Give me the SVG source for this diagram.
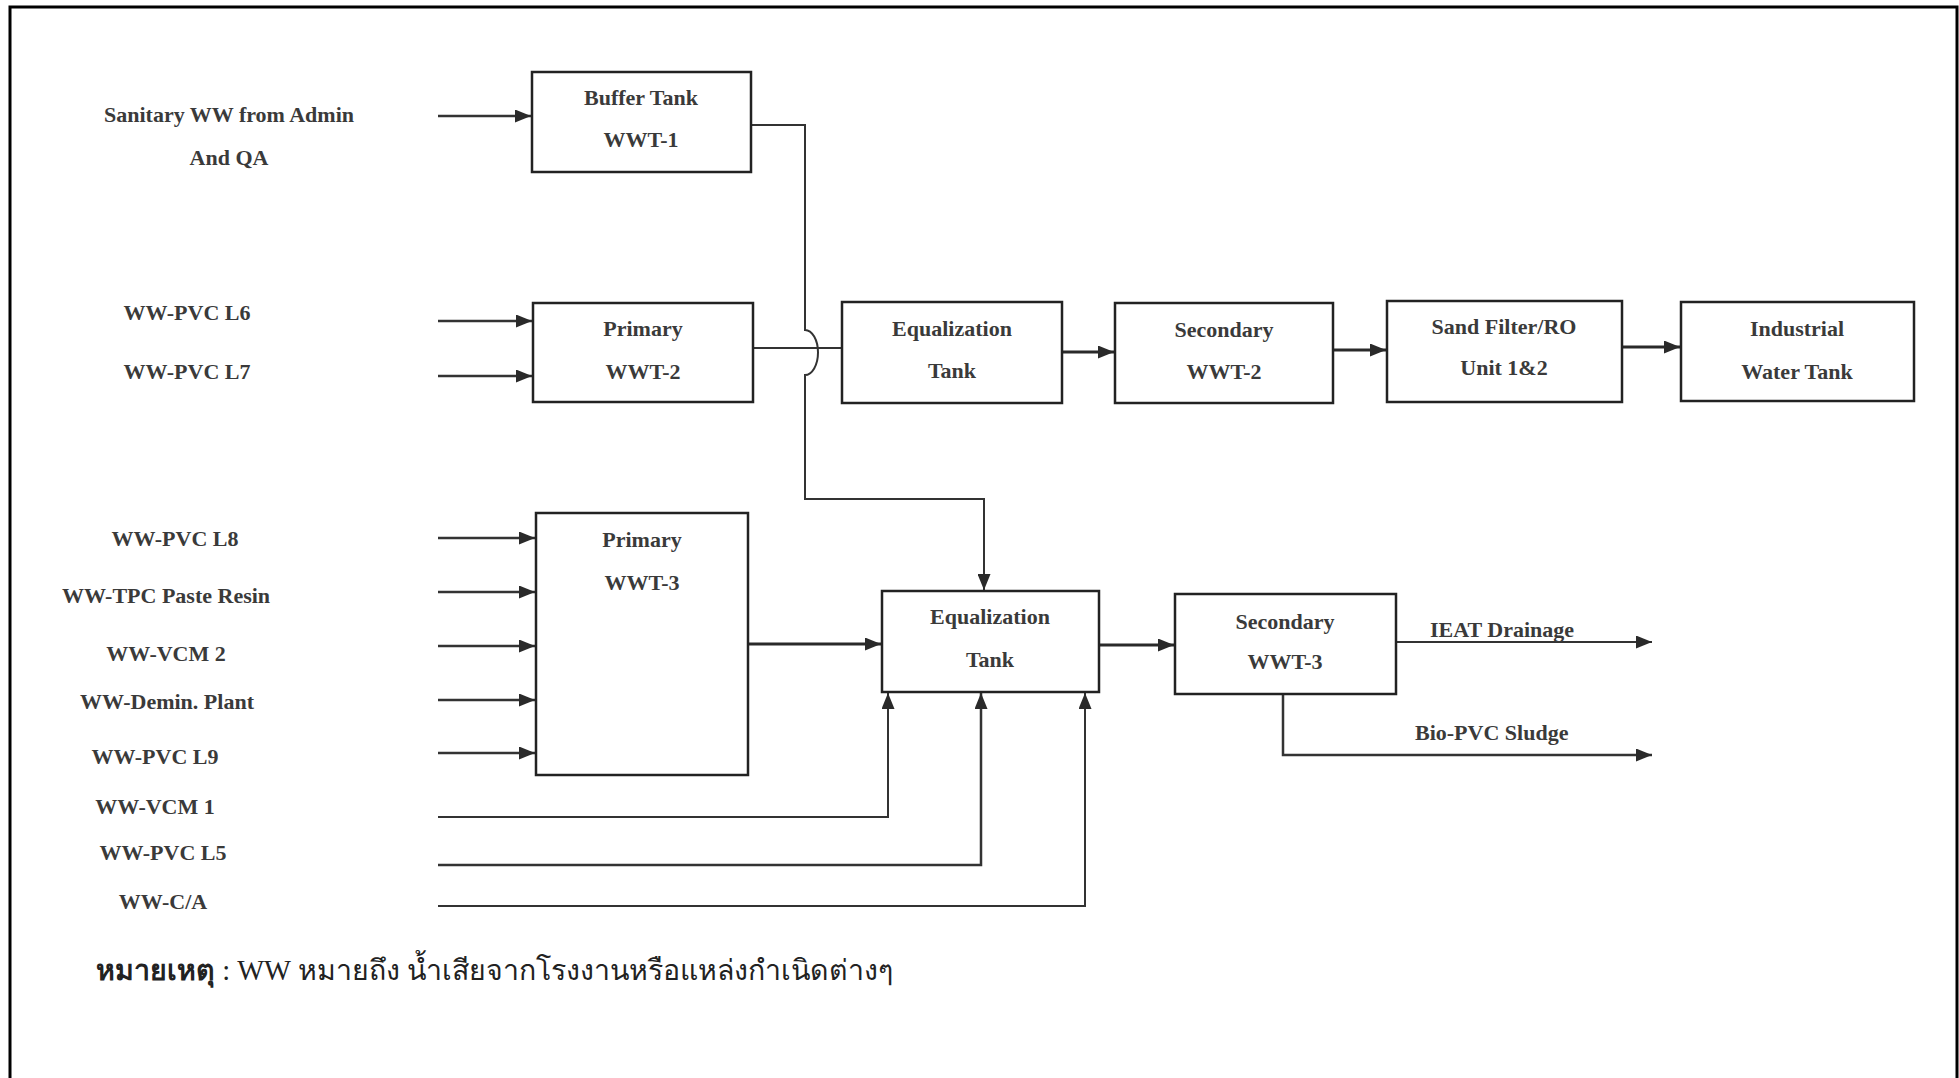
<svg xmlns="http://www.w3.org/2000/svg" width="1959" height="1078" viewBox="0 0 1959 1078">
<style>
.box{fill:#fff;stroke:#222;stroke-width:2.5}
.t{font-family:"Liberation Serif","DejaVu Serif",serif;font-weight:bold;font-size:22px;fill:#3a3a3a;text-anchor:middle}
.lab{font-family:"Liberation Serif","DejaVu Serif",serif;font-weight:bold;font-size:22px;fill:#3a3a3a}
.c{fill:none;stroke:#333;stroke-width:2}
.ci{fill:none;stroke:#333;stroke-width:2.5}
.ct{fill:none;stroke:#2a2a2a;stroke-width:3}
.foot{font-family:"Liberation Serif","Noto Sans","DejaVu Sans",serif;font-size:28.5px;fill:#222}
</style>
<defs>
<marker id="ah" markerUnits="userSpaceOnUse" markerWidth="17" markerHeight="13" refX="16" refY="6.5" orient="auto">
<path d="M0,0 L16,6.5 L0,13 z" fill="#2a2a2a"/>
</marker>
</defs>
<rect x="10" y="7" width="1947" height="1090" fill="none" stroke="#000" stroke-width="3"/>

<g id="connectors">
<path class="ci" d="M438,116 H531" marker-end="url(#ah)"/>
<path class="ci" d="M438,321 H532" marker-end="url(#ah)"/>
<path class="ci" d="M438,376 H532" marker-end="url(#ah)"/>
<path class="ci" d="M438,538 H535" marker-end="url(#ah)"/>
<path class="ci" d="M438,592 H535" marker-end="url(#ah)"/>
<path class="ci" d="M438,646 H535" marker-end="url(#ah)"/>
<path class="ci" d="M438,700 H535" marker-end="url(#ah)"/>
<path class="ci" d="M438,753 H535" marker-end="url(#ah)"/>
<path class="c" d="M751,125 H805 V330 A13,22.5 0 0 1 805,375 V499 H984 V590" marker-end="url(#ah)"/>
<path class="c" d="M753,348 H842"/>
<path class="ct" d="M1062,352 H1114" marker-end="url(#ah)"/>
<path class="ct" d="M1333,350 H1386" marker-end="url(#ah)"/>
<path class="ct" d="M1622,347 H1680" marker-end="url(#ah)"/>
<path class="ct" d="M748,644 H881" marker-end="url(#ah)"/>
<path class="ct" d="M1099,645 H1174" marker-end="url(#ah)"/>
<path class="c" d="M1396,642 H1652" marker-end="url(#ah)"/>
<path class="ci" d="M1283,694 V755 H1652" marker-end="url(#ah)"/>
<path class="c" d="M438,817 H888 V693" marker-end="url(#ah)"/>
<path class="ci" d="M438,865 H981 V693" marker-end="url(#ah)"/>
<path class="c" d="M438,906 H1085 V693" marker-end="url(#ah)" stroke="#555"/>
</g>

<g id="n-buffer">
<rect class="box" x="532" y="72" width="219" height="100"/>
<text class="t" x="641" y="105">Buffer Tank</text>
<text class="t" x="641" y="147">WWT-1</text>
</g>
<g id="n-primary2">
<rect class="box" x="533" y="303" width="220" height="99"/>
<text class="t" x="643" y="336">Primary</text>
<text class="t" x="643" y="379">WWT-2</text>
</g>
<g id="n-eq1">
<rect class="box" x="842" y="302" width="220" height="101"/>
<text class="t" x="952" y="336">Equalization</text>
<text class="t" x="952" y="378">Tank</text>
</g>
<g id="n-sec2">
<rect class="box" x="1115" y="303" width="218" height="100"/>
<text class="t" x="1224" y="337">Secondary</text>
<text class="t" x="1224" y="379">WWT-2</text>
</g>
<g id="n-sand">
<rect class="box" x="1387" y="301" width="235" height="101"/>
<text class="t" x="1504" y="334">Sand Filter/RO</text>
<text class="t" x="1504" y="375">Unit 1&amp;2</text>
</g>
<g id="n-ind">
<rect class="box" x="1681" y="302" width="233" height="99"/>
<text class="t" x="1797" y="336">Industrial</text>
<text class="t" x="1797" y="379">Water Tank</text>
</g>
<g id="n-primary3">
<rect class="box" x="536" y="513" width="212" height="262"/>
<text class="t" x="642" y="547">Primary</text>
<text class="t" x="642" y="590">WWT-3</text>
</g>
<g id="n-eq2">
<rect class="box" x="882" y="591" width="217" height="101"/>
<text class="t" x="990" y="624">Equalization</text>
<text class="t" x="990" y="667">Tank</text>
</g>
<g id="n-sec3">
<rect class="box" x="1175" y="594" width="221" height="100"/>
<text class="t" x="1285" y="629">Secondary</text>
<text class="t" x="1285" y="669">WWT-3</text>
</g>

<g id="labels">
<text class="t" x="229" y="122">Sanitary WW from Admin</text>
<text class="t" x="229" y="165">And QA</text>
<text class="t" x="187" y="320">WW-PVC L6</text>
<text class="t" x="187" y="379">WW-PVC L7</text>
<text class="t" x="175" y="546">WW-PVC L8</text>
<text class="t" x="166" y="603">WW-TPC Paste Resin</text>
<text class="t" x="166" y="661">WW-VCM 2</text>
<text class="t" x="167" y="709">WW-Demin. Plant</text>
<text class="t" x="155" y="764">WW-PVC L9</text>
<text class="t" x="155" y="814">WW-VCM 1</text>
<text class="t" x="163" y="860">WW-PVC L5</text>
<text class="t" x="163" y="909">WW-C/A</text>
<text class="lab" x="1430" y="637">IEAT Drainage</text>
<text class="lab" x="1415" y="740">Bio-PVC Sludge</text>
<text class="foot" x="96" y="980"><tspan font-weight="bold">หมายเหตุ</tspan> : WW หมายถึง น้ำเสียจากโรงงานหรือแหล่งกำเนิดต่างๆ</text>
</g>
</svg>
